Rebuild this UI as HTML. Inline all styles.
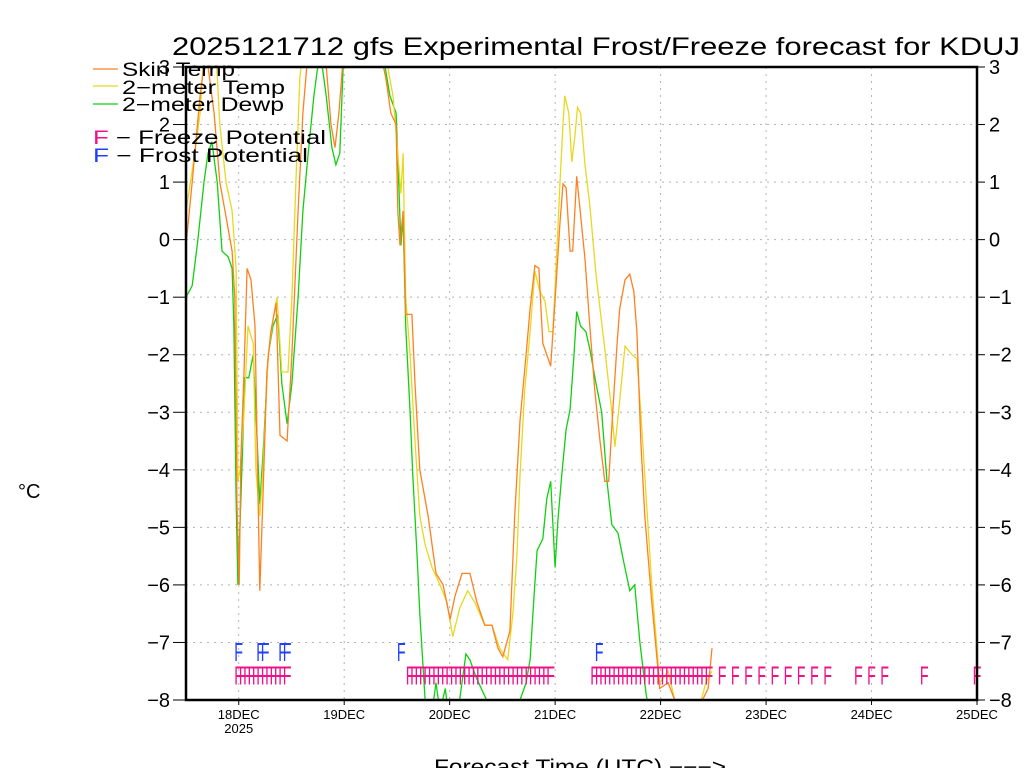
<!DOCTYPE html>
<html><head><meta charset="utf-8"><style>
html,body{margin:0;padding:0;background:#fff;}
svg{display:block;}
text{font-family:"Liberation Sans",sans-serif;}
</style></head><body>
<svg id="chart" width="1024" height="768" viewBox="0 0 1024 768" xmlns="http://www.w3.org/2000/svg">
<rect width="1024" height="768" fill="#fff"/>
<text x="172" y="55" font-size="25" textLength="848" lengthAdjust="spacingAndGlyphs">2025121712 gfs Experimental Frost/Freeze forecast for KDUJ</text>
<g id="grid"></g>
<g id="series"></g>
<g id="marks"></g>
<g id="axes"></g>
<g id="legend">
  <line x1="93" y1="69" x2="118" y2="69" stroke="#ff8020" stroke-width="1.2"/>
  <text x="122" y="76" font-size="19" textLength="113" lengthAdjust="spacingAndGlyphs">Skin Temp</text>
  <line x1="93" y1="86" x2="118" y2="86" stroke="#e8d820" stroke-width="1.2"/>
  <text x="122" y="94" font-size="19" textLength="163" lengthAdjust="spacingAndGlyphs">2−meter Temp</text>
  <line x1="93" y1="104" x2="118" y2="104" stroke="#10d010" stroke-width="1.2"/>
  <text x="122" y="111" font-size="19" textLength="162" lengthAdjust="spacingAndGlyphs">2−meter Dewp</text>
  <text x="93" y="144" font-size="19" textLength="233" lengthAdjust="spacingAndGlyphs"><tspan fill="#f0108a">F</tspan> − Freeze Potential</text>
  <text x="93" y="162" font-size="19" textLength="215" lengthAdjust="spacingAndGlyphs"><tspan fill="#2040ff">F</tspan> − Frost Potential</text>
</g>
<text x="18" y="498" font-size="20">°C</text>
<text x="434" y="774" font-size="21" textLength="292" lengthAdjust="spacingAndGlyphs">Forecast Time (UTC) −−−&gt;</text>
</svg>
<script>
// Hours since 17DEC 12Z
const skinHours=[0,1.4,3.2,4.5,6.4,7.7,9.1,10.5,11.1,11.6,12.1,12.5,13.2,13.9,14.8,15.7,16.4,16.8,17.5,18.4,19.3,20.5,21.4,23,24.1,25.5,26.6,27.8,31.6,33,33.9,34.8,35.9,44.1,45.5,46.6,47.8,48.2,48.7,49.4,50,51.4,52.1,53.2,55.1,56.9,58.5,60.1,61.2,62.8,64.6,66.2,68,69.6,71,72.1,73.7,74.8,76,77.4,78.3,79.4,80.3,81.2,83,84.2,85.1,85.8,86.5,87.4,88,88.9,90.8,91.9,93,94.2,95.3,96.2,97.1,98.1,98.7,99.9,101,101.9,102.6,103.5,104.4,106,107.8,109.7,111.2,114.7,116.9,118.8,119.7];
const skinTemp=[-0.1,1.0,2.5,3.3,2.2,1.0,0.4,-0.2,-1.0,-4.6,-6.0,-3.8,-2.3,-0.5,-0.7,-1.5,-4.5,-6.1,-4.5,-2.3,-1.6,-1.1,-3.4,-3.5,-2.0,0.5,2.2,3.3,3.3,2.0,1.6,2.2,3.3,3.3,2.8,2.2,2.0,0.5,-0.1,0.5,-1.3,-1.3,-2.5,-4.0,-4.8,-5.8,-6.0,-6.6,-6.2,-5.8,-5.8,-6.3,-6.7,-6.7,-7.1,-7.25,-6.8,-4.8,-3.15,-2.0,-1.2,-0.45,-0.5,-1.8,-2.2,-0.8,0.3,0.97,0.9,-0.2,-0.2,1.1,-0.34,-1.5,-2.6,-3.5,-4.2,-4.2,-3.0,-1.8,-1.2,-0.7,-0.6,-0.9,-1.6,-3.5,-4.8,-6.3,-7.8,-7.7,-8.0,-8.1,-8.1,-7.8,-7.1];
const tempHours=[0,2,3.2,4.1,6.8,7.7,9.1,10.5,11.4,11.8,12.3,13.2,14.1,15.3,15.9,16.8,17.5,18.7,19.8,20.7,21.8,23.2,24.1,25,25.9,26.6,44.1,45.9,47.1,48.2,48.9,49.4,50,51,52.1,53.2,54.4,56,57.8,59.4,60.7,62.3,64.1,65.7,68,69.6,71.4,73.2,74.4,75.3,76,77.1,78.3,79.4,80.5,81.7,82.6,83.5,84.2,85.1,85.8,86.2,87.1,87.8,88.5,89.1,89.8,90.8,91.9,93.3,94.2,95.3,96.9,97.6,98.7,99.9,101.5,102.6,103.5,104.4,106,107.8,109.7,111.2,114.7,116.9,118.3,119.7];
const temp2m=[0.5,1.5,2.2,3.3,3.3,2.0,1.0,0.5,-0.5,-4.2,-4.0,-3.0,-1.5,-1.8,-4.0,-4.8,-4.0,-2.0,-1.4,-1.0,-2.3,-2.3,-1.0,1.0,2.8,3.3,3.3,3.0,2.5,1.5,0.8,1.5,-1.0,-2.0,-3.5,-4.8,-5.3,-5.7,-6.0,-6.3,-6.9,-6.4,-6.1,-6.3,-6.7,-6.7,-7.1,-7.3,-6.5,-5.5,-4.1,-2.6,-1.6,-0.55,-0.9,-1.07,-1.6,-1.6,-0.5,1.0,2.0,2.5,2.2,1.35,1.8,2.3,2.2,1.3,0.6,-0.6,-1.2,-1.9,-3.0,-3.6,-2.8,-1.85,-2.0,-2.07,-3.0,-4.1,-6.0,-7.7,-7.5,-8.0,-8.1,-8.1,-7.7,-7.5];
const dewpHours=[0,1.4,2.7,4.1,5,5.9,7.1,8.2,9.6,10.5,10.9,11.4,11.8,12.5,13.4,14.3,15.3,16.2,16.8,17.7,18.7,19.8,20.9,21.8,23,24.1,25.5,26.6,27.8,29.1,30.5,31.9,33.2,34.1,35,35.9,44.1,45.3,46.4,47.8,48.4,48.9,49.4,50,51,51.6,52.6,53.2,54.4,55.5,56.9,57.8,59,60.1,61.9,62.8,63.7,64.6,66,67.8,69.6,73.7,76,77.4,78.3,79.2,79.9,81.2,82.1,83,84,84.6,85.5,86.5,87.4,88.3,88.9,89.8,91,91.9,93.3,94.6,95.8,96.9,98.3,99.6,101,102.1,103.3,104.7,105.6];
const dewp2m=[-1.0,-0.8,0.0,1.0,1.5,1.7,1.0,-0.2,-0.3,-0.5,-1.5,-4.5,-6.0,-4.5,-2.4,-2.4,-2.0,-3.5,-4.6,-3.5,-2.0,-1.5,-1.3,-2.5,-3.2,-2.5,-1.0,0.5,1.5,2.5,3.3,2.5,1.6,1.3,1.5,3.3,3.3,3.0,2.5,2.2,1.0,-0.1,0.4,-1.5,-3.0,-4.1,-5.5,-6.5,-8.0,-8.5,-7.7,-8.2,-7.8,-8.5,-8.2,-7.7,-7.2,-7.3,-7.6,-7.9,-8.2,-8.3,-8.0,-7.7,-7.3,-6.2,-5.4,-5.2,-4.5,-4.2,-5.7,-4.9,-4.1,-3.3,-2.95,-2.0,-1.25,-1.5,-1.6,-1.9,-2.5,-3.0,-4.2,-4.95,-5.1,-5.6,-6.1,-6.0,-7.0,-7.9,-8.3];
const frostHours=[11,16,17,21,22,48,93];
const freezeRuns=[[11,22,1],[50,82,1],[92,118,1],[121,145,3],[152,158,3]];
const freezeSingles=[167,179];
const yTicks=[-8,-7,-6,-5,-4,-3,-2,-1,0,1,2,3];
const dayLabels=["18DEC","19DEC","20DEC","21DEC","22DEC","23DEC","24DEC","25DEC"];
const dayHours=[12,36,60,84,108,132,156,180];

const NS="http://www.w3.org/2000/svg";
const X0=186,X1=977,Y0=700,Y1=67,HMAX=180,VMIN=-8,VMAX=3;
function xs(h){return X0+(X1-X0)*h/HMAX;}
function ys(v){return Y0-(Y0-Y1)*(v-VMIN)/(VMAX-VMIN);}
function mk(tag,attrs,parent){const e=document.createElementNS(NS,tag);for(const k in attrs)e.setAttribute(k,attrs[k]);parent.appendChild(e);return e;}
const grid=document.getElementById('grid'),axes=document.getElementById('axes'),series=document.getElementById('series'),marks=document.getElementById('marks');
const svg=document.getElementById('chart');
const defs=mk('defs',{},svg);
const cp=mk('clipPath',{id:'plotclip'},defs);
mk('rect',{x:X0,y:Y1,width:X1-X0,height:Y0-Y1},cp);

yTicks.forEach(v=>{
  const y=ys(v);
  if(v>VMIN&&v<VMAX){const g=mk('line',{x1:X0,x2:X1,y1:y,y2:y,stroke:'#b4b4b4','stroke-width':1,'stroke-dasharray':'2,5'},grid);
  
  }
  mk('line',{x1:X0-13,x2:X0,y1:y,y2:y,stroke:'#000','stroke-width':1},axes);
  mk('line',{x1:X1,x2:X1+8,y1:y,y2:y,stroke:'#000','stroke-width':1},axes);
  const lab=(v<0?'−':'')+Math.abs(v);
  const t=mk('text',{x:X0-16,y:y+7,'font-size':20,'text-anchor':'end'},axes);t.textContent=lab;
  
  
  const t2=mk('text',{x:X1+12,y:y+7,'font-size':20},axes);t2.textContent=lab;
  
  
});
dayHours.forEach((h,i)=>{
  const x=xs(h);
  if(h<HMAX){const g=mk('line',{x1:x,x2:x,y1:Y1,y2:Y0,stroke:'#b4b4b4','stroke-width':1,'stroke-dasharray':'2,5'},grid);
  
  }
  mk('line',{x1:x,x2:x,y1:Y0,y2:Y0+5,stroke:'#000','stroke-width':1},axes);
  const t=mk('text',{x:x,y:Y0+19,'font-size':13,'text-anchor':'middle'},axes);t.textContent=dayLabels[i];
  
  
});
const yr=mk('text',{x:xs(12),y:Y0+33,'font-size':13,'text-anchor':'middle'},axes);yr.textContent='2025';


const frame=mk('rect',{x:X0,y:Y1,width:X1-X0,height:Y0-Y1,fill:'none',stroke:'#000','stroke-width':2.5},axes);



function line(hours,vals,color,name){
  const d=hours.map((h,i)=>(i?'L':'M')+xs(h).toFixed(1)+','+ys(vals[i]).toFixed(1)).join('');
  const p=mk('path',{d:d,fill:'none',stroke:color,'stroke-width':1.3,'clip-path':'url(#plotclip)'},series);
  
  
}
line(dewpHours,dewp2m,'#10d010','dewpoint-line');
line(tempHours,temp2m,'#e8d820','2m-temp-line');
line(skinHours,skinTemp,'#ff8020','skin-temp-line');

function fMark(h,v,color,name){
  const t=mk('text',{x:0,y:0,'font-size':26,fill:color,transform:'translate('+xs(h).toFixed(1)+','+ys(v).toFixed(1)+') scale(0.55,1)'},marks);
  t.textContent='F';
  
  
}
frostHours.forEach(h=>fMark(h,-7.32,'#2040ff','frost-mark'));
const freezeHours=[];
freezeRuns.forEach(r=>{for(let h=r[0];h<=r[1];h+=r[2])freezeHours.push(h);});
freezeSingles.forEach(h=>freezeHours.push(h));
freezeHours.forEach(h=>fMark(h,-7.73,'#f0108a','freeze-mark'));
</script>
</body></html>
